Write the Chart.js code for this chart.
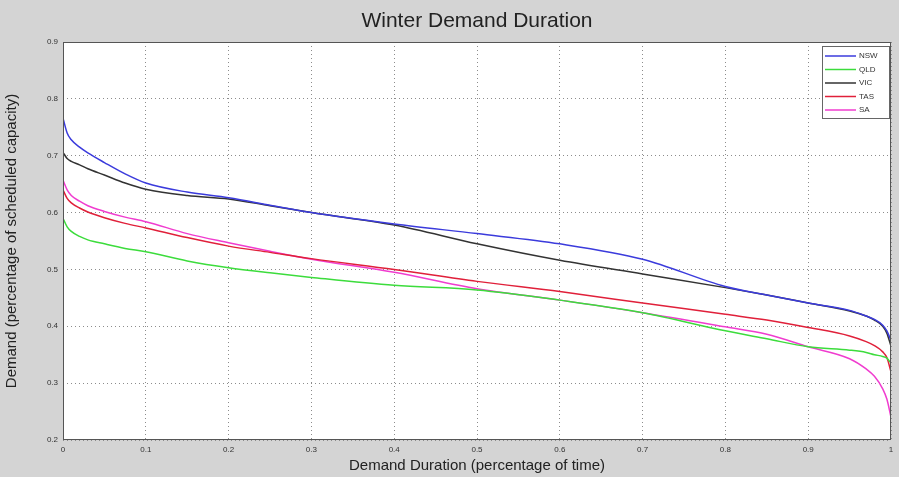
<!DOCTYPE html>
<html>
<head>
<meta charset="utf-8">
<script src="https://cdn.jsdelivr.net/npm/chart.js@4/dist/chart.umd.min.js"></script>
<style>
html,body{margin:0;padding:0;background:#d4d4d4;}
#wrap{width:899px;height:477px;position:relative;}
</style>
</head>
<body>
<div id="wrap"><canvas id="c" width="899" height="477"></canvas></div>
<script>
const durations = [0, 0.005, 0.01, 0.02, 0.03, 0.05, 0.075, 0.1, 0.15, 0.2, 0.25, 0.3, 0.4, 0.5, 0.6, 0.7, 0.8, 0.85, 0.9, 0.95, 0.97, 0.98, 0.99, 0.995, 1.0];
const nsw = [0.766, 0.740, 0.728, 0.715, 0.705, 0.688, 0.668, 0.652, 0.636, 0.626, 0.613, 0.600, 0.580, 0.563, 0.545, 0.518, 0.470, 0.455, 0.441, 0.428, 0.418, 0.412, 0.402, 0.392, 0.375];
const qld = [0.590, 0.575, 0.567, 0.558, 0.552, 0.545, 0.537, 0.531, 0.515, 0.503, 0.494, 0.486, 0.472, 0.464, 0.446, 0.424, 0.392, 0.378, 0.364, 0.358, 0.354, 0.350, 0.347, 0.344, 0.335];
const vic = [0.706, 0.695, 0.690, 0.684, 0.677, 0.666, 0.652, 0.641, 0.630, 0.624, 0.612, 0.600, 0.578, 0.545, 0.516, 0.492, 0.468, 0.455, 0.441, 0.427, 0.418, 0.411, 0.400, 0.388, 0.365];
const tas = [0.640, 0.625, 0.617, 0.608, 0.601, 0.591, 0.581, 0.573, 0.556, 0.541, 0.530, 0.519, 0.500, 0.479, 0.461, 0.441, 0.421, 0.411, 0.398, 0.383, 0.373, 0.366, 0.355, 0.345, 0.320];
const sa  = [0.657, 0.640, 0.630, 0.620, 0.612, 0.602, 0.592, 0.584, 0.563, 0.547, 0.532, 0.518, 0.495, 0.466, 0.446, 0.424, 0.399, 0.386, 0.364, 0.343, 0.325, 0.312, 0.290, 0.272, 0.240];
const seriesNames = ['NSW', 'QLD', 'VIC', 'TAS', 'SA'];
const xTicks = [0, 0.1, 0.2, 0.3, 0.4, 0.5, 0.6, 0.7, 0.8, 0.9, 1];
const yTicks = [0.2, 0.3, 0.4, 0.5, 0.6, 0.7, 0.8, 0.9];
const chartTitle = 'Winter Demand Duration';

const colors = ['#3b3bdc', '#3cdc3c', '#333333', '#e0203a', '#f03ccf'];
const allSeries = [nsw, qld, vic, tas, sa];
const FONT = '"Liberation Sans", Arial, sans-serif';

const datasets = allSeries.map((vals, i) => ({
  label: seriesNames[i],
  data: durations.map((d, j) => ({x: d, y: vals[j]})),
  borderColor: colors[i],
  backgroundColor: colors[i],
  borderWidth: 1.5,
  pointRadius: 0,
  cubicInterpolationMode: 'monotone',
  fill: false
}));

const bgPlugin = {
  id: 'bg',
  beforeDraw(chart) {
    const {ctx, chartArea: a} = chart;
    ctx.save();
    ctx.fillStyle = '#d4d4d4';
    ctx.fillRect(0, 0, chart.width, chart.height);
    ctx.fillStyle = '#ffffff';
    ctx.fillRect(a.left, a.top, a.right - a.left, a.bottom - a.top);
    ctx.restore();
  },
  afterDraw(chart) {
    const {ctx, chartArea: a} = chart;
    ctx.save();
    // title centred over the axes
    ctx.font = '21px ' + FONT;
    ctx.fillStyle = '#222222';
    ctx.textAlign = 'center';
    ctx.textBaseline = 'middle';
    ctx.fillText(chartTitle, (a.left + a.right) / 2, 21);
    // plot border
    ctx.strokeStyle = '#555555';
    ctx.lineWidth = 1;
    ctx.strokeRect(a.left + 0.5, a.top + 0.5, a.right - a.left - 1, a.bottom - a.top - 1);
    // legend
    const bx = 822, by = 46, bw = 67, bh = 72;
    ctx.fillStyle = '#ffffff';
    ctx.fillRect(bx, by, bw, bh);
    ctx.strokeStyle = '#666666';
    ctx.strokeRect(bx + 0.5, by + 0.5, bw, bh);
    ctx.font = '8px ' + FONT;
    ctx.textBaseline = 'middle';
    ctx.textAlign = 'left';
    seriesNames.forEach((n, i) => {
      const y = by + 10 + i * 13.5;
      ctx.strokeStyle = colors[i];
      ctx.lineWidth = 1.5;
      ctx.beginPath();
      ctx.moveTo(bx + 3, y);
      ctx.lineTo(bx + 34, y);
      ctx.stroke();
      ctx.fillStyle = '#333333';
      ctx.fillText(n, bx + 37, y);
    });
    ctx.restore();
  }
};

new Chart(document.getElementById('c'), {
  type: 'line',
  data: {datasets},
  plugins: [bgPlugin],
  options: {
    responsive: false,
    animation: false,
    layout: {padding: {top: 42, left: 0, right: 8, bottom: 0}},
    plugins: {
      legend: {display: false},
      tooltip: {enabled: false},
      title: {display: false}
    },
    scales: {
      x: {
        type: 'linear',
        min: 0, max: 1,
        afterBuildTicks(scale) { scale.ticks = xTicks.map(v => ({value: v})); },
        afterFit(scale) { scale.height = 37; },
        ticks: {
          color: '#333333',
          font: {family: FONT, size: 8},
          padding: 5,
          maxRotation: 0,
          callback: v => String(v)
        },
        grid: {color: '#8c8c8c', drawTicks: false, lineWidth: 1},
        border: {display: false, dash: [1, 3]},
        title: {
          display: true,
          text: 'Demand Duration (percentage of time)',
          color: '#222222',
          font: {family: FONT, size: 15},
          padding: {top: 0, bottom: 2}
        }
      },
      y: {
        type: 'linear',
        min: 0.2, max: 0.9,
        afterBuildTicks(scale) { scale.ticks = yTicks.map(v => ({value: v})); },
        afterFit(scale) { scale.width = 63; },
        ticks: {
          color: '#333333',
          font: {family: FONT, size: 8},
          padding: 5,
          callback: v => v.toFixed(1)
        },
        grid: {color: '#8c8c8c', drawTicks: false, lineWidth: 1},
        border: {display: false, dash: [1, 3]},
        title: {
          display: true,
          text: 'Demand (percentage of scheduled capacity)',
          color: '#222222',
          font: {family: FONT, size: 15},
          padding: {top: 3, bottom: 0}
        }
      }
    }
  }
});
</script>
</body>
</html>
